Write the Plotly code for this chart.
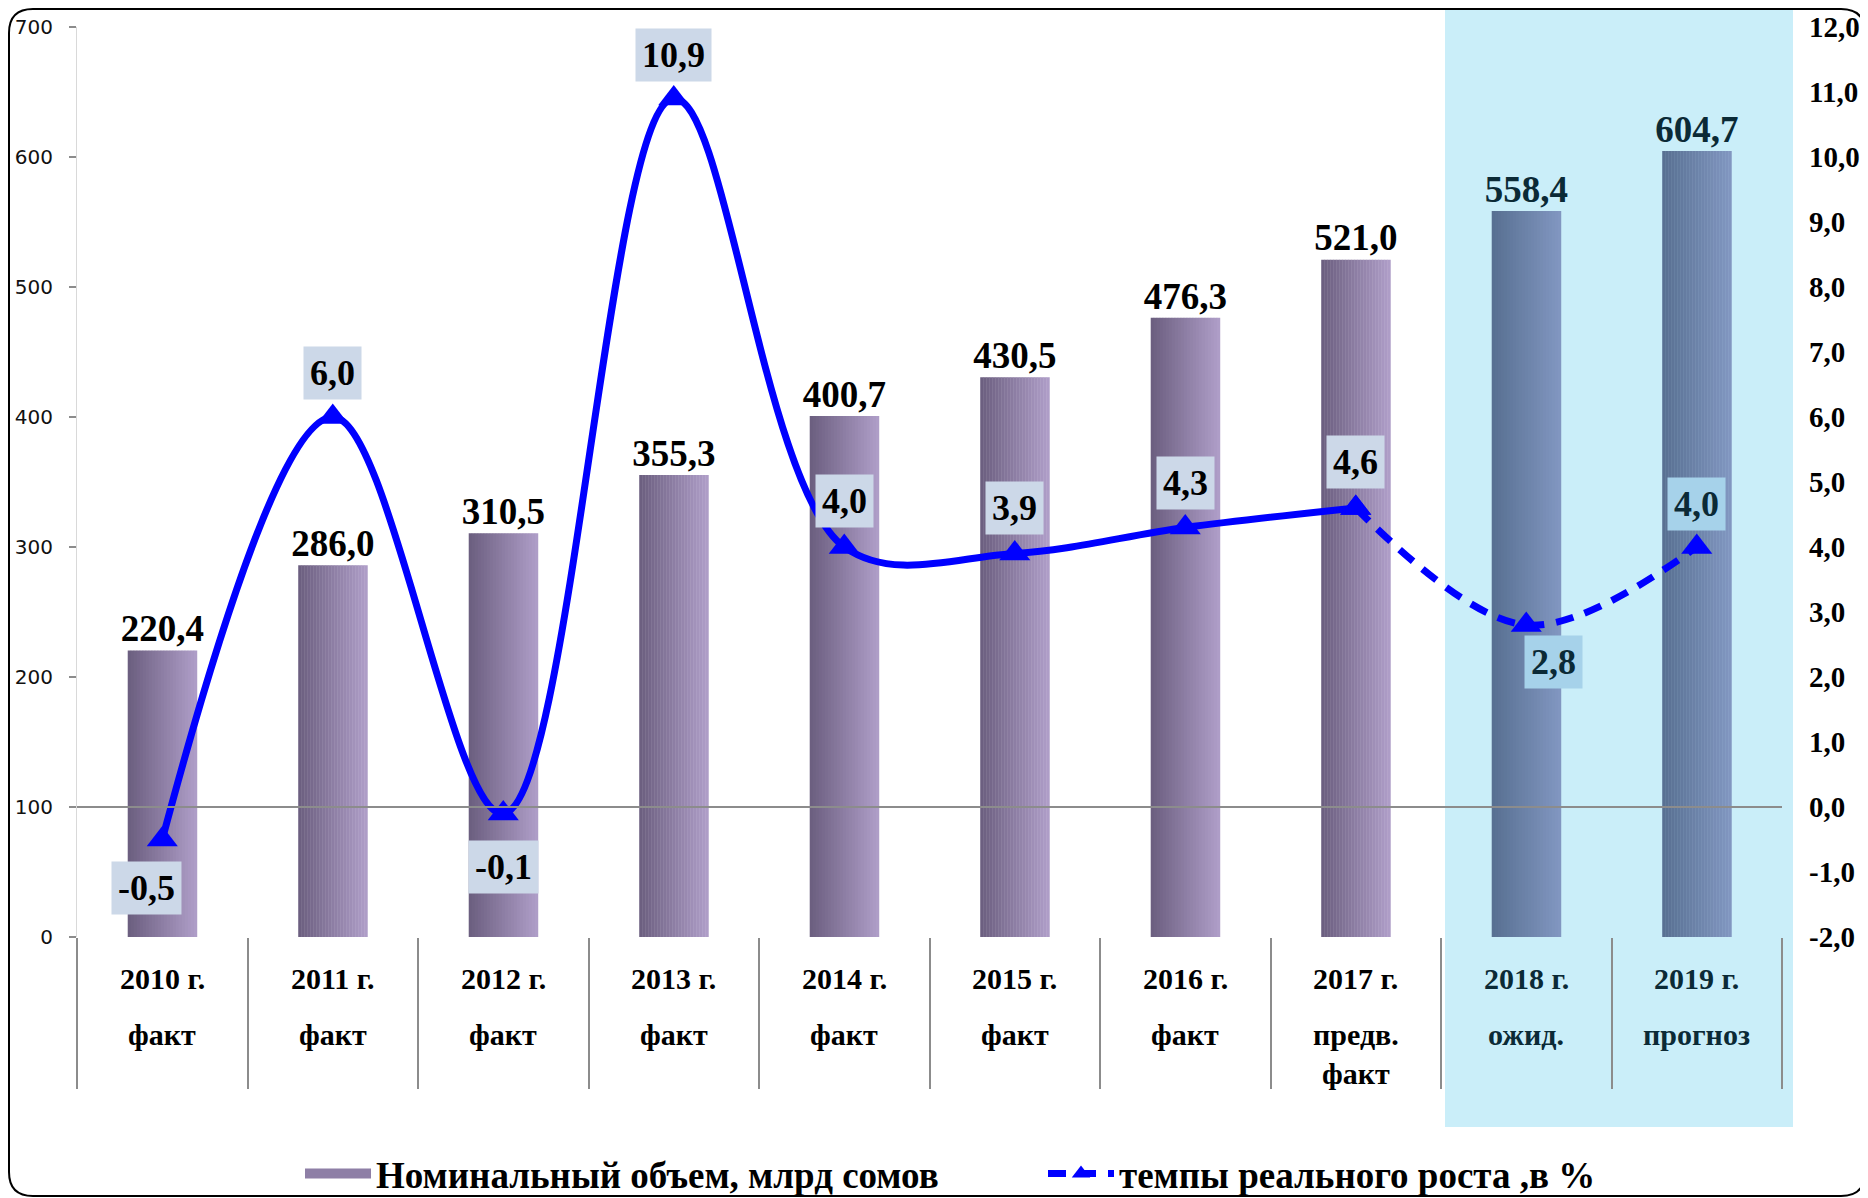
import plotly.graph_objects as go

# data
years = ["2010 г.", "2011 г.", "2012 г.", "2013 г.", "2014 г.",
         "2015 г.", "2016 г.", "2017 г.", "2018 г.", "2019 г."]
status = ["факт", "факт", "факт", "факт", "факт",
          "факт", "факт", "предв.<br>факт", "ожид.", "прогноз"]
nominal = [220.4, 286.0, 310.5, 355.3, 400.7, 430.5, 476.3, 521.0, 558.4, 604.7]
growth = [-0.5, 6.0, -0.1, 10.9, 4.0, 3.9, 4.3, 4.6, 2.8, 4.0]
right_ticks = [-2, -1, 0, 1, 2, 3, 4, 5, 6, 7, 8, 9, 10, 11, 12]
forecast_from = 8  # 2018 and 2019 are expectation / forecast

bar_name = "Номинальный объем, млрд сомов"
line_name = "темпы реального роста ,в %"

SERIF = "Liberation Serif"
BLUE = "#0000FF"
DARK = "#0B2A36"

# page has an 8px body margin, so the figure is a bit smaller than the window
OFF = 8
W, H = 1868 - OFF, 1198 - OFF
PL, PT, PR, PB = 77, 27, 1782, 937     # plot area on the page
L, T = PL - OFF, PT - OFF
R, B = W - (PR - OFF), H - (PB - OFF)
PW, PH = PR - PL, PB - PT


def px_x(px):
    return (px - PL) / PW


def px_y(py):
    return (PB - py) / PH


def mix(c1, c2, t):
    a = [int(c1[i:i + 2], 16) for i in (1, 3, 5)]
    b = [int(c2[i:i + 2], 16) for i in (1, 3, 5)]
    return "#%02x%02x%02x" % tuple(round(a[k] + (b[k] - a[k]) * t) for k in range(3))


def fmt(v):
    return f"{v:.1f}".replace(".", ",")


fig = go.Figure()

# bars with a left-to-right gradient made of thin strips
n_strips = 23
bar_w = 0.405
sw = bar_w / n_strips
for k in range(n_strips):
    t = k / (n_strips - 1)
    cols = [mix("#6C5F80", "#AE9DC7", t) if i < forecast_from else mix("#587092", "#8196C0", t)
            for i in range(len(years))]
    fig.add_trace(go.Bar(
        x=years, y=nominal, width=sw * 1.15, offset=-bar_w / 2 + k * sw,
        marker=dict(color=cols, line=dict(width=0)),
        showlegend=False, hoverinfo="skip",
    ))

# legend entry for the bars (wide patch)
fig.add_trace(go.Scatter(
    x=[years[0]], y=[None], mode="lines", line=dict(color="#8E7FA6", width=18),
    name=bar_name, legendrank=1,
))

# bar value labels
fig.add_trace(go.Scatter(
    x=years, y=nominal, mode="text",
    text=[fmt(v) for v in nominal], textposition="top center",
    textfont=dict(family=SERIF, size=37, weight="bold",
                  color=["#000000" if i < forecast_from else DARK for i in range(len(years))]),
    showlegend=False, hoverinfo="skip", cliponaxis=False,
))

# growth line, solid for facts, dashed for estimate/forecast
fig.add_trace(go.Scatter(
    x=years[:forecast_from], y=growth[:forecast_from], yaxis="y2",
    mode="lines+markers", line=dict(color=BLUE, width=7, shape="spline", smoothing=1.0),
    marker=dict(symbol="triangle-up", size=27, color=BLUE),
    showlegend=False, cliponaxis=False,
))
fig.add_trace(go.Scatter(
    x=years[forecast_from - 1:], y=growth[forecast_from - 1:], yaxis="y2",
    mode="lines+markers",
    line=dict(color=BLUE, width=7, shape="spline", smoothing=1.0, dash="18px,12px"),
    marker=dict(symbol="triangle-up", size=27, color=BLUE),
    name=line_name, legendrank=2, cliponaxis=False,
))

# growth labels in boxes
label_shift = [(-16, -48), (0, 44), (0, -53), (0, 44), (0, 46),
               (0, 46), (0, 45), (0, 46), (27, -37), (0, 43)]
for i, (yr, v) in enumerate(zip(years, growth)):
    dx, dy = label_shift[i]
    fc = i >= forecast_from
    fig.add_annotation(
        x=yr, y=v, yref="y2", text=fmt(v), showarrow=False,
        xshift=dx, yshift=dy,
        font=dict(family=SERIF, size=36, weight="bold", color=DARK if fc else "#000000"),
        bgcolor="#A6D2EA" if fc else "#CCD8E8", borderpad=6,
    )

# category labels (two rows)
for i, (yr, st) in enumerate(zip(years, status)):
    c = DARK if i >= forecast_from else "#000000"
    fig.add_annotation(x=yr, y=px_y(978), yref="paper", text=yr, showarrow=False,
                       font=dict(family=SERIF, size=30, weight="bold", color=c), yanchor="middle")
    fig.add_annotation(x=yr, y=px_y(1016), yref="paper", text=st, showarrow=False,
                       font=dict(family=SERIF, size=30, weight="bold", color=c), yanchor="top")

# forecast band
fig.add_shape(type="rect", xref="paper", yref="paper", x0=px_x(1445), x1=px_x(1793),
              y0=px_y(1127), y1=px_y(10), fillcolor="#CAEEF9", line=dict(width=0), layer="below")

# zero line of the right axis
fig.add_shape(type="line", xref="paper", yref="y2", x0=0, x1=1, y0=0, y1=0,
              line=dict(color="#8C8C8C", width=2), layer="above")

# rounded outer border
x0, x1, y0, y1 = px_x(9), px_x(1865), px_y(1196), px_y(9)
rx, ry = 24 / PW, 24 / PH
path = (f"M {x0 + rx},{y1} L {x1 - rx},{y1} Q {x1},{y1} {x1},{y1 - ry} "
        f"L {x1},{y0 + ry} Q {x1},{y0} {x1 - rx},{y0} "
        f"L {x0 + rx},{y0} Q {x0},{y0} {x0},{y0 + ry} "
        f"L {x0},{y1 - ry} Q {x0},{y1} {x0 + rx},{y1} Z")
fig.add_shape(type="path", xref="paper", yref="paper", path=path,
              line=dict(color="#000000", width=2), layer="above")

fig.update_layout(
    width=W, height=H,
    margin=dict(l=L, r=R, t=T, b=B, autoexpand=False),
    paper_bgcolor="white", plot_bgcolor="rgba(0,0,0,0)",
    separators=", ",
    barmode="overlay",
    showlegend=True,
    legend=dict(orientation="h", x=px_x(300), xanchor="left", y=px_y(1174), yanchor="middle",
                font=dict(family=SERIF, size=37, weight="bold", color="#000000"),
                itemwidth=66, entrywidth=662, bgcolor="rgba(0,0,0,0)"),
    xaxis=dict(
        type="category", range=[-0.5, 9.5], showticklabels=False, showgrid=False,
        showline=False, zeroline=False, automargin=False,
        ticks="outside", tickson="boundaries", ticklen=151, tickwidth=2, tickcolor="#8C8C8C",
    ),
    yaxis=dict(
        range=[0, 700], dtick=100, showgrid=False, zeroline=False, automargin=False,
        showline=True, linecolor="#D9D9D9", linewidth=1,
        ticks="outside", ticklen=7, tickcolor="#8C8C8C", tickwidth=2,
        ticklabelstandoff=12,
        tickfont=dict(family="DejaVu Sans", size=20, color="#111111"),
    ),
    yaxis2=dict(
        range=[-2, 12], tickvals=right_ticks, ticktext=[fmt(v) for v in right_ticks],
        overlaying="y", side="right", automargin=False,
        showgrid=False, zeroline=False, showline=False, ticks="",
        ticklabelstandoff=26,
        tickfont=dict(family=SERIF, size=29, weight="bold", color="#000000"),
    ),
)

fig.write_html("out.html")
